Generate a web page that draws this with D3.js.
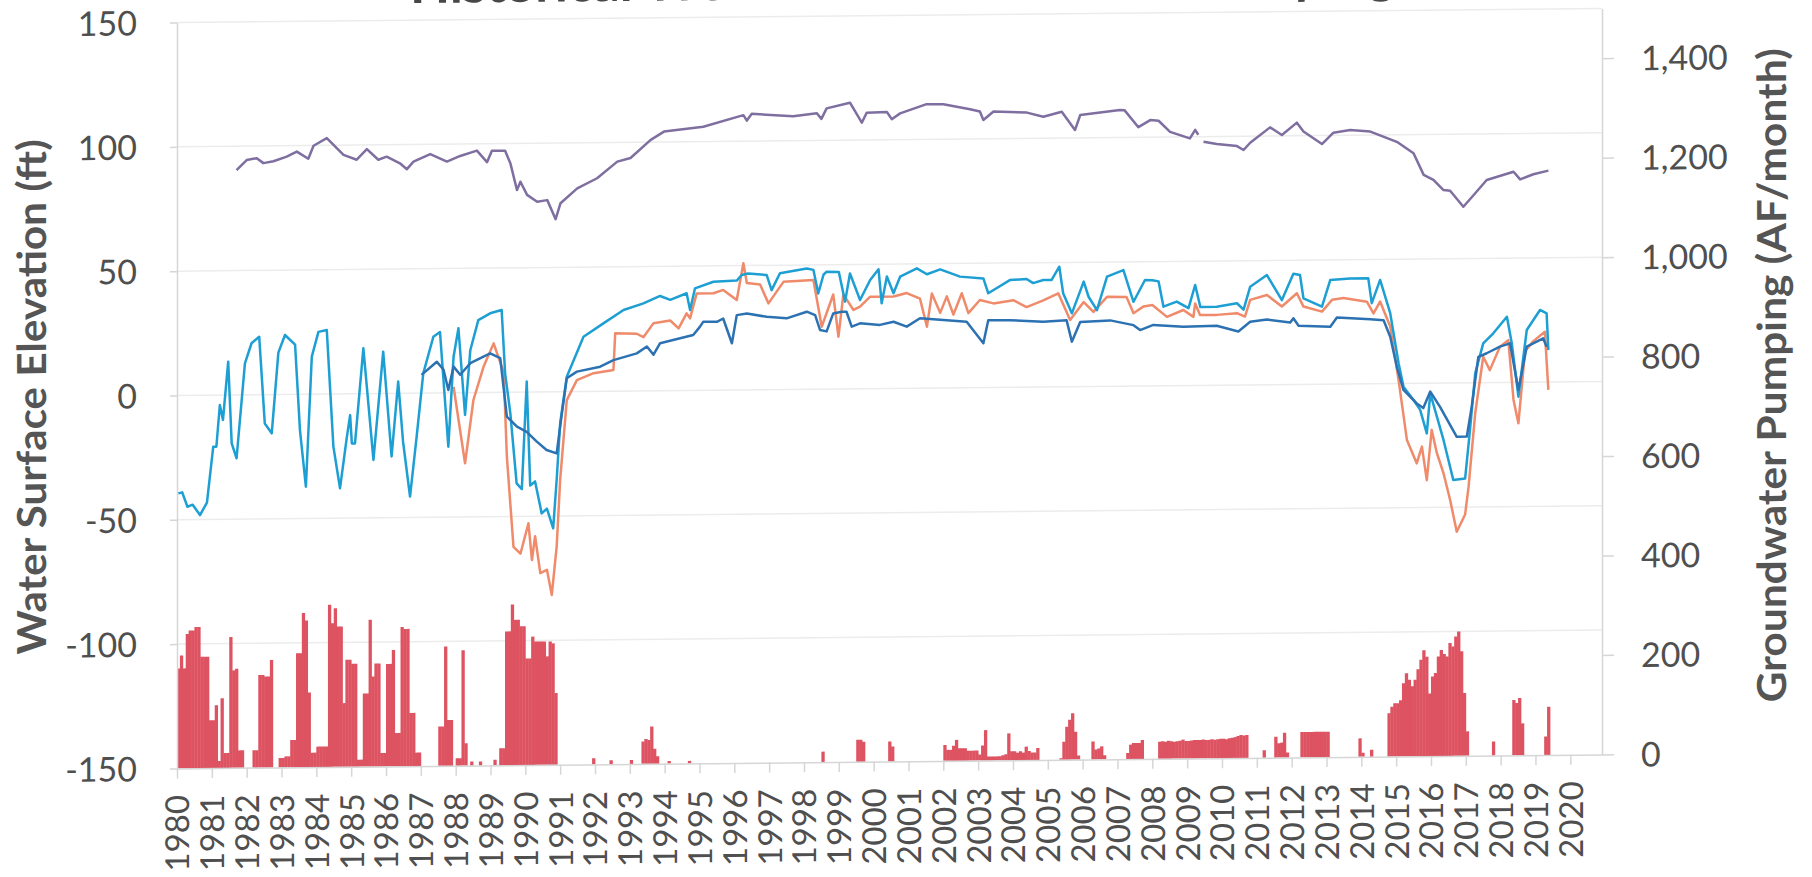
<!DOCTYPE html>
<html><head><meta charset="utf-8">
<script src="https://cdn.jsdelivr.net/npm/d3@7"></script>
<style>
html,body{margin:0;padding:0;background:#fff;overflow:hidden}
svg{display:block}
text{font-family:Lato,"Open Sans",sans-serif}
</style></head><body>
<svg id="chart" width="1812" height="877"></svg>
<script>
// ---------------- DATA ----------------
const chartTitle = "Historical WSE and Groundwater Pumping";
const leftAxisTitle = "Water Surface Elevation (ft)";
const rightAxisTitle = "Groundwater Pumping (AF/month)";
const yearTicks = d3.range(1980, 2021);
const leftTicks = [-150, -100, -50, 0, 50, 100, 150];
const rightTicks = [0, 200, 400, 600, 800, 1000, 1200, 1400];

// Water surface elevation series: [decimal year, ft]
const wellPurple = [[1981.71,90.4],[1982.0,94.4],[1982.29,95.1],[1982.48,93.1],[1982.77,93.8],[1983.15,95.6],[1983.44,97.6],[1983.77,94.7],[1983.92,99.9],[1984.3,102.9],[1984.78,96.1],[1985.16,94.1],[1985.45,98.3],[1985.78,94],[1986.02,95.2],[1986.4,92.5],[1986.6,90.1],[1986.79,93.1],[1987.27,96.1],[1987.75,93],[1988.13,95.2],[1988.61,97.3],[1988.9,92.6],[1989.04,97.2],[1989.42,97.1],[1989.57,92.1],[1989.76,81.3],[1989.86,84.6],[1990.05,79.3],[1990.34,76.5],[1990.63,77.1],[1990.87,69.4],[1991.01,75.8],[1991.49,81.7],[1992.06,85.7],[1992.64,92.3],[1993.02,93.7],[1993.6,100.9],[1993.98,104.2],[1995.11,106],[1996.26,110.5],[1996.36,108.3],[1996.5,111],[1997.69,109.9],[1998.37,111],[1998.5,108.7],[1998.65,112.9],[1999.32,115.1],[1999.66,107],[1999.8,111],[2000.38,111.2],[2000.52,108.3],[2000.76,110.6],[2001.52,114.2],[2002.0,114.1],[2002.77,112],[2003.05,111],[2003.15,107.6],[2003.44,111],[2004.4,110.4],[2004.87,108.7],[2005.4,110.6],[2005.78,103.2],[2005.93,109.2],[2007.07,111.1],[2007.2,111],[2007.6,104.1],[2007.94,106.9],[2008.18,106.6],[2008.51,102.1],[2009.08,99.4],[2009.23,102.8],[2009.32,100.8],[2009.4,null],[2009.47,98],[2009.85,97],[2010.43,96.1],[2010.62,94.5],[2010.81,97.4],[2011.38,103.5],[2011.72,100.4],[2012.15,105.3],[2012.34,101.7],[2012.87,96.6],[2013.2,101.1],[2013.68,102.1],[2014.26,101.4],[2015.02,97.2],[2015.5,92.5],[2015.79,83.8],[2016.07,81.7],[2016.36,77.6],[2016.55,77.3],[2016.93,70.8],[2017.27,76.2],[2017.6,81.5],[2018.37,84.7],[2018.56,81.6],[2018.94,83.6],[2019.37,85]];

const wellCyan = [[1980.04,-39.4],[1980.15,-39],[1980.3,-44.8],[1980.45,-44],[1980.66,-48.2],[1980.86,-43.2],[1981.04,-20.8],[1981.13,-20.8],[1981.23,-4],[1981.32,-10],[1981.47,13.4],[1981.57,-19.5],[1981.71,-25.5],[1981.95,12.6],[1982.14,20.7],[1982.36,23.3],[1982.52,-11.6],[1982.72,-15.6],[1982.91,16.8],[1983.1,23.9],[1983.39,20],[1983.53,-14.4],[1983.7,-37.2],[1983.87,15.1],[1984.06,25],[1984.3,25.7],[1984.49,-21.2],[1984.68,-38],[1984.87,-18],[1984.97,-8.6],[1985.02,-20],[1985.11,-20],[1985.35,18.2],[1985.64,-26.7],[1985.92,16.8],[1986.16,-25.4],[1986.35,4.7],[1986.49,-19.5],[1986.69,-41.6],[1986.88,-17.5],[1987.07,7.9],[1987.36,22.6],[1987.55,24.5],[1987.79,-21.7],[1987.94,14.5],[1988.08,25.9],[1988.27,-9],[1988.42,17],[1988.65,29.1],[1988.99,31.8],[1989.32,33.1],[1989.42,7.6],[1989.57,-8.5],[1989.75,-36.7],[1989.9,-39],[1990.04,4.2],[1990.14,-37.6],[1990.28,-36],[1990.47,-48.9],[1990.62,-47],[1990.8,-54.9],[1990.9,-35.4],[1991.0,-12.7],[1991.19,6],[1991.67,22],[1992.24,27.3],[1992.82,32.6],[1993.39,35.2],[1993.87,38.1],[1994.16,36.5],[1994.63,39.1],[1994.73,32.3],[1994.87,41],[1995.4,43.6],[1996.07,44],[1996.21,46.2],[1996.4,46.8],[1996.93,46.1],[1997.07,40],[1997.31,46.8],[1998.08,48.6],[1998.27,48],[1998.41,38.5],[1998.56,46],[1998.65,47.2],[1999.0,47],[1999.18,35.1],[1999.32,46.4],[1999.61,35.7],[1999.9,43.7],[2000.14,48],[2000.23,34.3],[2000.38,45],[2000.57,38.3],[2000.76,44.9],[2001.24,48.2],[2001.53,45.8],[2001.91,47.7],[2002.48,44.7],[2003.15,43.9],[2003.29,37.9],[2003.91,43.1],[2004.39,43.5],[2004.58,41.8],[2004.87,43],[2005.11,43],[2005.33,48.3],[2005.44,37.6],[2005.69,29.5],[2006.03,42.2],[2006.17,36.1],[2006.41,30.7],[2006.7,44.1],[2007.17,46.7],[2007.46,33.9],[2007.79,42.6],[2008.0,42.5],[2008.18,42],[2008.32,31.8],[2008.7,33.8],[2009.04,31.1],[2009.23,40.4],[2009.38,31.5],[2009.85,31.6],[2010.43,32.9],[2010.62,30.3],[2010.81,39.5],[2011.29,44.1],[2011.72,34],[2012.05,44.5],[2012.24,44],[2012.34,34.6],[2012.87,31.2],[2013.11,41.9],[2013.68,42.4],[2014.2,42.4],[2014.3,32.4],[2014.54,41.7],[2014.83,28.3],[2015.07,8.1],[2015.21,-1.3],[2015.5,-6.7],[2015.69,-10.7],[2015.88,-20.2],[2015.98,-4.1],[2016.17,-13.5],[2016.36,-22.9],[2016.64,-39],[2016.98,-38.5],[2017.12,-19],[2017.27,3.8],[2017.5,15.8],[2017.79,19.8],[2018.18,26.4],[2018.32,15.7],[2018.51,-5.8],[2018.75,21],[2019.13,29],[2019.32,27.6],[2019.37,12.8]];

const wellDarkBlue = [[1987.02,7.3],[1987.46,12.5],[1987.65,9.4],[1987.79,1.1],[1987.94,10.5],[1988.13,7.2],[1988.42,11.8],[1988.99,15.7],[1989.28,13.7],[1989.47,-9.8],[1989.76,-13.9],[1990.04,-16],[1990.33,-20],[1990.61,-23.4],[1990.9,-24.8],[1991.05,-8.7],[1991.19,5.4],[1991.48,8],[1992.15,9.9],[1992.53,12.5],[1993.2,15.1],[1993.49,17.8],[1993.68,14.5],[1993.87,19.1],[1994.3,20.5],[1994.82,22.3],[1995.01,25.5],[1995.11,27.6],[1995.5,27.5],[1995.68,28.8],[1995.93,18.8],[1996.07,30.1],[1996.36,30.7],[1996.93,29.3],[1997.5,28.6],[1998.08,31.2],[1998.32,29.8],[1998.46,23.8],[1998.65,23.2],[1998.84,30.4],[1999.08,31],[1999.22,31],[1999.37,25],[1999.61,26.3],[2000.18,25.6],[2000.57,26.8],[2000.95,24.8],[2001.33,28.1],[2002.0,27.3],[2002.67,26.5],[2003.15,17.8],[2003.29,27],[2003.91,27],[2004.87,26.2],[2005.54,26.7],[2005.69,18.1],[2005.93,26],[2006.79,26.5],[2007.46,24.5],[2007.65,22.5],[2008.03,24.5],[2008.89,23.7],[2009.85,23.9],[2010.47,21.5],[2010.81,25.4],[2011.29,26.2],[2011.96,24.9],[2012.05,26.6],[2012.2,23.6],[2013.11,23.1],[2013.3,26.8],[2014.26,25.9],[2014.64,25.5],[2014.83,18.8],[2015.02,6.7],[2015.21,-2.6],[2015.59,-8.1],[2015.78,-10],[2015.98,-3.4],[2016.26,-9.6],[2016.74,-21.7],[2017.03,-21.6],[2017.17,-9.6],[2017.36,10.4],[2017.6,11.8],[2017.98,14.4],[2018.27,15.7],[2018.51,-3.1],[2018.75,14.3],[2019.22,17.6],[2019.32,14.2]];

const wellOrange = [[1987.94,2.4],[1988.27,-28.4],[1988.51,-3],[1988.8,10.3],[1989.09,19.7],[1989.38,8],[1989.47,-25.9],[1989.66,-62.2],[1989.86,-65],[1990.09,-52.8],[1990.19,-67.6],[1990.28,-58],[1990.43,-72.9],[1990.62,-71.6],[1990.76,-81.7],[1990.9,-62.3],[1991.0,-35.5],[1991.19,-3.4],[1991.48,4.6],[1991.96,7.3],[1992.53,8.5],[1992.58,23.3],[1993.2,23],[1993.39,21.6],[1993.68,27.2],[1994.16,28.2],[1994.4,25],[1994.63,31],[1994.73,29],[1994.92,39],[1995.4,39],[1995.68,40.3],[1996.07,36.2],[1996.26,50.9],[1996.36,43],[1996.74,42.3],[1996.98,34.7],[1997.41,43.3],[1998.27,43.9],[1998.51,25.1],[1998.84,38],[1998.99,21],[1999.13,38],[1999.42,31.7],[1999.61,33],[1999.9,37],[2000.57,37],[2000.95,38.3],[2001.33,36],[2001.53,24.7],[2001.67,38],[2001.91,30.2],[2002.1,36.8],[2002.29,29.5],[2002.53,38],[2002.72,30],[2003.05,35.2],[2003.44,33.8],[2004.01,35],[2004.39,32.2],[2004.87,34.8],[2005.3,37.6],[2005.64,26.8],[2006.03,34],[2006.31,30],[2006.7,36],[2007.26,35.8],[2007.46,29.3],[2007.75,32],[2008.0,32.5],[2008.42,27.7],[2008.89,30.4],[2009.18,27.6],[2009.23,33],[2009.37,28.3],[2009.85,28.3],[2010.43,28.9],[2010.66,27.5],[2010.81,34.2],[2011.29,36.1],[2011.72,31.4],[2012.15,36.7],[2012.34,31.3],[2012.87,29.2],[2013.16,33.9],[2013.49,34.6],[2014.16,33],[2014.35,28.3],[2014.54,33],[2014.83,22.9],[2015.07,1.4],[2015.31,-22.8],[2015.59,-32.2],[2015.74,-25.5],[2015.88,-39],[2016.02,-18.8],[2016.17,-28.2],[2016.36,-36.3],[2016.55,-47.1],[2016.74,-59.9],[2016.98,-53],[2017.08,-41.8],[2017.27,-12.3],[2017.5,10.4],[2017.69,5],[2017.98,14.4],[2018.22,17],[2018.37,-7.1],[2018.51,-16.5],[2018.7,12.5],[2018.94,16.5],[2019.27,20.2],[2019.37,-3.2]];

// Monthly groundwater pumping (AF/month), Jan 1980 onward, one row per year
const pumpStartYear = 1980;
const pumpingMonthly = [
  201,227,201,270,277,277,284,284,224,224,224,96,   // 1980
  96,126,14,140,30,30,263,196,199,35,35,0,          // 1981
  0,0,35,35,186,186,183,183,216,0,0,19,             // 1982
  19,22,22,55,55,229,229,310,295,150,29,29,         // 1983
  41,41,41,41,326,289,319,282,282,128,215,215,      // 1984
  207,207,14,14,147,147,295,181,207,207,27,27,      // 1985
  206,206,234,67,67,280,276,276,107,107,27,27,      // 1986
  0,0,0,0,0,0,79,79,240,92,92,0,                    // 1987
  15,15,232,45,0,8,0,0,8,0,0,0,                     // 1988
  0,11,0,34,34,269,269,323,292,292,279,279,         // 1989
  214,214,258,248,248,248,248,218,248,244,144,0,    // 1990
  0,0,0,0,0,0,0,0,0,0,0,12,                         // 1991
  0,0,0,0,0,8,0,0,0,0,0,0,                          // 1992
  8,0,0,0,45,50,48,75,30,15,0,0,                    // 1993
  0,5,0,0,0,0,0,0,5,0,0,0,                          // 1994
  0,0,0,0,0,0,0,0,0,0,0,0,                          // 1995
  0,0,0,0,0,0,0,0,0,0,0,0,                          // 1996
  0,0,0,0,0,0,0,0,0,0,0,0,                          // 1997
  0,0,0,0,0,0,21,0,0,0,0,0,                         // 1998
  0,0,0,0,0,0,44,44,40,0,0,0,                       // 1999
  0,0,0,0,0,40,30,0,0,0,0,0,                        // 2000
  0,0,0,0,0,0,0,0,0,0,0,0,                          // 2001
  32,22,22,30,42,25,25,25,20,20,20,20,              // 2002
  12,30,61,8,8,8,8,8,10,12,54,18,                   // 2003
  18,15,18,15,27,18,15,15,24,0,0,0,                 // 2004
  0,0,0,0,3,36,66,80,93,56,8,0,                     // 2005
  0,0,0,36,20,22,26,8,0,0,0,0,                      // 2006
  0,0,0,12,29,32,32,32,38,0,0,0,                    // 2007
  0,0,34,35,34,36,35,34,35,36,38,35,                // 2008
  35,36,37,37,37,38,37,37,38,37,38,39,              // 2009
  39,38,40,41,42,44,46,45,46,0,0,0,                 // 2010
  0,0,15,0,0,0,42,29,30,50,10,0,                    // 2011
  0,0,0,51,51,51,51,51,51,51,51,51,                 // 2012
  51,0,0,0,0,0,0,0,0,0,0,37,                        // 2013
  8,0,0,14,0,0,0,0,0,87,100,107,                    // 2014
  107,113,147,167,154,141,154,175,194,213,200,126,  // 2015
  160,167,200,213,205,200,227,220,240,250,210,126,  // 2016
  49,0,0,0,0,0,0,0,0,28,0,0,                        // 2017
  0,0,0,0,111,105,115,64,0,0,0,0,                   // 2018
  0,0,0,37,97                                       // 2019
];

// ---------------- CHART ----------------
const k = -0.00982;          // slight skew of the scanned original
const x0 = 177, x1 = 1602, yTop = 22.5, yBot = 768.4;
const svg = d3.select('#chart');
const g = svg.append('g').attr('transform', `matrix(1,${k},0,1,0,${-k*x0})`);

const x = d3.scaleLinear().domain([1980, 2020.91]).range([x0, x1]);
const yL = d3.scaleLinear().domain([-150, 150]).range([yBot, yTop]);
const yR = d3.scaleLinear().domain([0, 1500]).range([yBot, yTop]);

const labelColor = '#4f4f4f';
const lineGray = '#d6d6d6';

// gridlines
g.append('g').selectAll('line').data(leftTicks.filter(v => v > -150)).join('line')
  .attr('x1', x0).attr('x2', x1)
  .attr('y1', d => yL(d)).attr('y2', d => yL(d))
  .attr('stroke', '#ececec').attr('stroke-width', 1.5);

// bars
const bars = pumpingMonthly.map((v, i) => ({t: pumpStartYear + i / 12, v}));
g.append('g').selectAll('rect').data(bars.filter(d => d.v > 0)).join('rect')
  .attr('x', d => x(d.t))
  .attr('width', d => x(d.t + 1/12) - x(d.t) + 0.4)
  .attr('y', d => yR(d.v))
  .attr('height', d => yR(0) - yR(d.v))
  .attr('fill', '#dd5361');

// axes
const axL = g.append('g').attr('transform', `translate(${x0},0)`)
  .call(d3.axisLeft(yL).tickValues(leftTicks).tickSize(7).tickSizeOuter(0).tickPadding(33)
    .tickFormat(d => String(d)));
const axR = g.append('g').attr('transform', `translate(${x1},0)`)
  .call(d3.axisRight(yR).tickValues(rightTicks).tickSize(12).tickSizeOuter(0).tickPadding(27)
    .tickFormat(d3.format(',')));
const axB = g.append('g').attr('transform', `translate(0,${yBot})`)
  .call(d3.axisBottom(x).tickValues(yearTicks).tickSize(10).tickSizeOuter(0)
    .tickFormat(d => String(d)));

[axL, axR, axB].forEach(a => {
  a.select('.domain').attr('stroke', lineGray).attr('stroke-width', 1.5);
  a.selectAll('.tick line').attr('stroke', lineGray).attr('stroke-width', 1.5);
  a.selectAll('.tick text').attr('fill', labelColor).attr('font-size', 34)
    .attr('font-family', 'Lato, sans-serif');
});
axL.selectAll('.tick text').attr('dy', '0.35em');
axR.selectAll('.tick text').attr('dy', '0.35em');
axB.selectAll('.tick text')
  .attr('transform', 'rotate(-90)')
  .attr('text-anchor', 'end')
  .attr('x', -(795 - yBot)).attr('y', 0).attr('dy', '0.36em')
  .attr('font-size', 33);

// lines
const line = d3.line().defined(d => d[1] != null).x(d => x(d[0])).y(d => yL(d[1]));
const series = [
  {data: wellPurple, color: '#7f6ea0'},
  {data: wellOrange, color: '#ef8b6b'},
  {data: wellCyan, color: '#1e9fd3'},
  {data: wellDarkBlue, color: '#2c72b2'}
];
g.append('g').selectAll('path').data(series).join('path')
  .attr('d', d => line(d.data))
  .attr('fill', 'none')
  .attr('stroke', d => d.color)
  .attr('stroke-width', 2.5)
  .attr('stroke-linejoin', 'round');

// titles
g.append('text').text(chartTitle)
  .attr('x', 410).attr('y', 5.3)
  .attr('font-size', 46).attr('font-weight', 'bold').attr('fill', '#474747')
  .attr('textLength', 985).attr('lengthAdjust', 'spacingAndGlyphs');

g.append('text').text(leftAxisTitle)
  .attr('transform', `translate(46,${(yTop + yBot) / 2}) rotate(-90)`)
  .attr('text-anchor', 'middle')
  .attr('font-size', 40).attr('font-weight', 'bold').attr('fill', '#555')
  .attr('textLength', 515).attr('lengthAdjust', 'spacingAndGlyphs');

g.append('text').text(rightAxisTitle)
  .attr('transform', `translate(1786,${391}) rotate(-90)`)
  .attr('text-anchor', 'middle')
  .attr('font-size', 40).attr('font-weight', 'bold').attr('fill', '#555')
  .attr('textLength', 654).attr('lengthAdjust', 'spacingAndGlyphs');
</script>
</body></html>
